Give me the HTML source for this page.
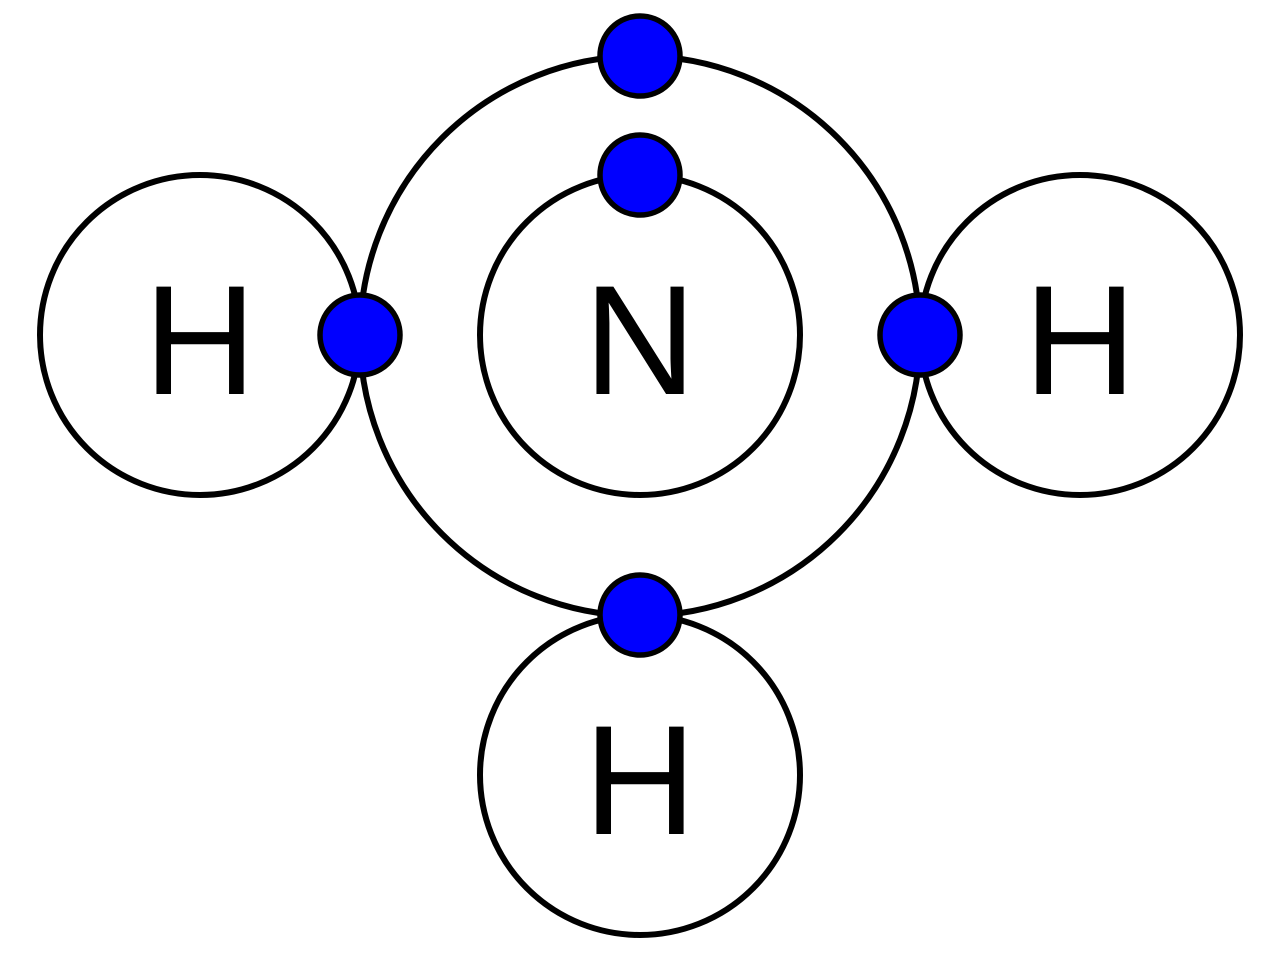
<!DOCTYPE html>
<html><head><style>html,body{margin:0;padding:0;background:#fff}</style></head>
<body>
<svg width="1280" height="960" viewBox="0 0 1280 960" xmlns="http://www.w3.org/2000/svg">
<g fill="none" stroke="#000" stroke-width="6">
<circle cx="640" cy="336" r="280"/>
<circle cx="640" cy="335" r="160"/>
<circle cx="200" cy="335" r="160"/>
<circle cx="1080" cy="335" r="160"/>
<circle cx="640" cy="775" r="160"/>
</g>
<g fill="#0000ff" stroke="#000" stroke-width="5.5">
<circle cx="640" cy="56" r="40"/>
<circle cx="640" cy="175" r="40"/>
<circle cx="360" cy="335" r="40"/>
<circle cx="920" cy="335" r="40"/>
<circle cx="640" cy="615" r="40"/>
</g>
<g font-family="Liberation Sans, sans-serif" font-size="156" text-anchor="middle" fill="#000">
<text x="200" y="394">H</text>
<text x="640" y="394">N</text>
<text x="1080" y="394">H</text>
<text x="640" y="834">H</text>
</g>
</svg>
</body></html>
